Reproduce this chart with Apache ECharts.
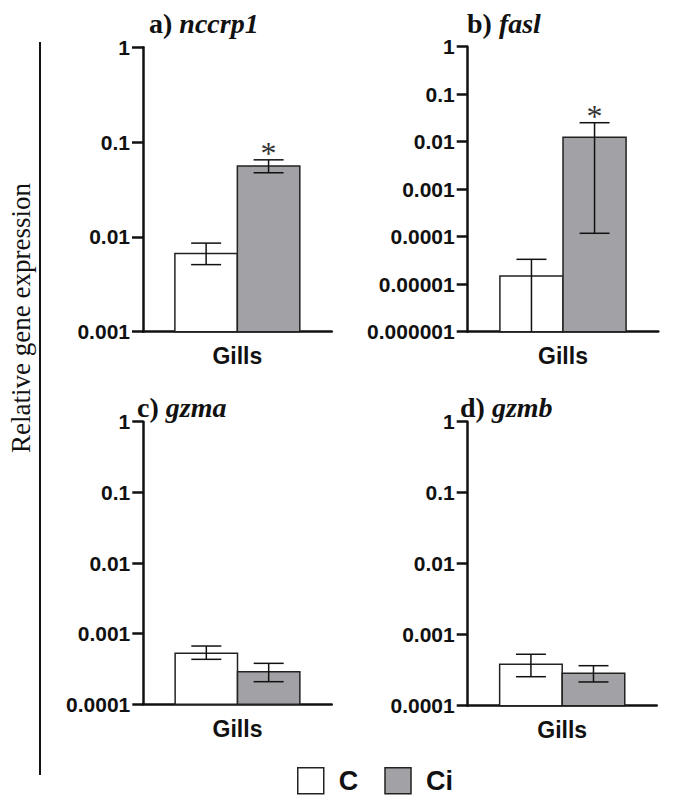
<!DOCTYPE html>
<html><head><meta charset="utf-8">
<script src="https://cdn.jsdelivr.net/npm/echarts@6/dist/echarts.min.js"></script>
<style>html,body{margin:0;padding:0;background:#fff}#c{width:676px;height:807px}</style>
</head><body><div id="c"></div>
<script>
// ---------- DATA ----------
const categories = ['Gills'];
const seriesNames = ['C', 'Ci'];
const panelLetters = ['a)', 'b)', 'c)', 'd)'];
const genes = ['nccrp1', 'fasl', 'gzma', 'gzmb'];
// [C, Ci]
const meanNccrp1 = [0.0067, 0.056];
const upperNccrp1 = [0.0086, 0.065];
const lowerNccrp1 = [0.0051, 0.0475];
const meanFasl = [0.0000149, 0.0124];
const upperFasl = [0.0000334, 0.0251];
const lowerFasl = [null, 0.000118];
const meanGzma = [0.000526, 0.000289];
const upperGzma = [0.000668, 0.00038];
const lowerGzma = [0.000433, 0.000209];
const meanGzmb = [0.000383, 0.000286];
const upperGzmb = [0.00053, 0.000366];
const lowerGzmb = [0.000256, 0.000216];
const significant = [[false, true], [false, true], [false, false], [false, false]];
const tickLabelsA = ['0.001', '0.01', '0.1', '1'];
const tickLabelsB = ['0.000001', '0.00001', '0.0001', '0.001', '0.01', '0.1', '1'];
const tickLabelsC = ['0.0001', '0.001', '0.01', '0.1', '1'];
const tickLabelsD = ['0.0001', '0.001', '0.01', '0.1', '1'];
const yAxisTitle = 'Relative gene expression';

// ---------- LAYOUT / STYLE ----------
const means = [meanNccrp1, meanFasl, meanGzma, meanGzmb];
const uppers = [upperNccrp1, upperFasl, upperGzma, upperGzmb];
const lowers = [lowerNccrp1, lowerFasl, lowerGzma, lowerGzmb];
const ticks = [tickLabelsA, tickLabelsB, tickLabelsC, tickLabelsD];
const grids = [
  {left: 143, top: 47.3, width: 188.7, height: 284.4},
  {left: 467.7, top: 46.7, width: 190.6, height: 285},
  {left: 143.3, top: 421.7, width: 188.4, height: 282.6},
  {left: 467.7, top: 421.7, width: 189, height: 284}
];
const titlePos = [[149, 23], [467, 23], [137, 407], [460, 407]];
const fills = ['#ffffff', '#a2a2a6'];
const ink = '#111';
const sansFont = '"Liberation Sans", Arial, sans-serif';
const serifFont = '"Liberation Serif", "Times New Roman", serif';

function makeRender(g, minV) {
  return function (params, api) {
    const mean = api.value(1), low = api.value(2), high = api.value(3), sig = api.value(4);
    const c = api.coord([0, mean]);
    const base = api.coord([0, minV]);
    const band = api.size([1, 0])[0];
    const bw = band * 0.331;
    const cx = c[0] + (g === 0 ? -bw / 2 : bw / 2);
    const cap = 15;
    const children = [];
    children.push({type: 'rect', shape: {x: cx - bw / 2, y: c[1], width: bw, height: base[1] - c[1]},
      style: {fill: fills[g], stroke: '#222', lineWidth: 1.5}});
    const yh = api.coord([0, high])[1];
    const lowOk = !isNaN(low) && low > minV;
    const yl = lowOk ? api.coord([0, low])[1] : base[1];
    children.push({type: 'line', shape: {x1: cx, y1: yh, x2: cx, y2: yl}, style: {stroke: ink, lineWidth: 1.5}});
    children.push({type: 'line', shape: {x1: cx - cap, y1: yh, x2: cx + cap, y2: yh}, style: {stroke: ink, lineWidth: 1.5}});
    if (lowOk) children.push({type: 'line', shape: {x1: cx - cap, y1: yl, x2: cx + cap, y2: yl}, style: {stroke: ink, lineWidth: 1.5}});
    if (sig) children.push({type: 'text', style: {text: '*', x: cx, y: yh - 7, align: 'center', verticalAlign: 'middle',
      font: '32px ' + serifFont, fill: '#333'}});
    return {type: 'group', children: children};
  };
}

const xAxes = [], yAxes = [], series = [], graphics = [];
for (let i = 0; i < 4; i++) {
  const labels = ticks[i];
  const minV = Number(labels[0]), maxV = Number(labels[labels.length - 1]);
  xAxes.push({type: 'category', gridIndex: i, data: categories,
    axisLine: {lineStyle: {color: ink, width: 2.5}},
    axisTick: {alignWithLabel: true, length: 11, lineStyle: {color: ink, width: 2.5}},
    axisLabel: {color: ink, fontFamily: sansFont, fontWeight: 'bold', fontSize: 23, margin: 13}});
  yAxes.push({type: 'log', logBase: 10, gridIndex: i, min: minV, max: maxV,
    axisLine: {show: true, lineStyle: {color: ink, width: 2.5}},
    axisTick: {show: true, length: 11, lineStyle: {color: ink, width: 2.5}},
    splitLine: {show: false},
    axisLabel: {color: ink, fontFamily: sansFont, fontWeight: 'bold', fontSize: 21, margin: 13,
      formatter: function (v) { return labels[Math.round(Math.log10(v) - Math.log10(minV))]; }}});
  for (let g = 0; g < 2; g++) {
    const lo = lowers[i][g];
    series.push({type: 'custom', name: seriesNames[g], xAxisIndex: i, yAxisIndex: i,
      itemStyle: {color: fills[g], borderColor: '#222', borderWidth: 1.5},
      encode: {x: 0, y: 1},
      data: [[0, means[i][g], lo === null ? '-' : lo, uppers[i][g], significant[i][g] ? 1 : 0]],
      renderItem: makeRender(g, minV), clip: false, z: 3});
  }
  graphics.push({type: 'text', x: titlePos[i][0], y: titlePos[i][1],
    style: {text: '{n|' + panelLetters[i] + ' }{g|' + genes[i] + '}', verticalAlign: 'middle', fill: ink,
      rich: {n: {fontFamily: serifFont, fontWeight: 'bold', fontSize: 28, fill: ink, color: ink},
             g: {fontFamily: serifFont, fontWeight: 'bold', fontStyle: 'italic', fontSize: 28, fill: ink, color: ink}}}});
}
graphics.push({type: 'line', shape: {x1: 40, y1: 42, x2: 40, y2: 775}, style: {stroke: ink, lineWidth: 2}});
graphics.push({type: 'text', x: 21, y: 318, rotation: Math.PI / 2,
  style: {text: yAxisTitle, align: 'center', verticalAlign: 'middle', font: '27px ' + serifFont, fill: ink}});

const chart = echarts.init(document.getElementById('c'), null, {renderer: 'svg'});
chart.setOption({
  backgroundColor: '#fff',
  animation: false,
  grid: grids,
  xAxis: xAxes,
  yAxis: yAxes,
  series: series,
  legend: {left: 297, top: 767, padding: 0, itemWidth: 26, itemHeight: 26, itemGap: 26, icon: 'rect',
    selectedMode: false,
    textStyle: {fontFamily: sansFont, fontWeight: 'bold', fontSize: 27, lineHeight: 26, color: ink, padding: [0, 0, 0, 10]},
    data: seriesNames.map(function (n, g) { return {name: n, itemStyle: {color: fills[g], borderColor: '#222', borderWidth: 1.5}}; })},
  graphic: graphics
});
</script></body></html>
